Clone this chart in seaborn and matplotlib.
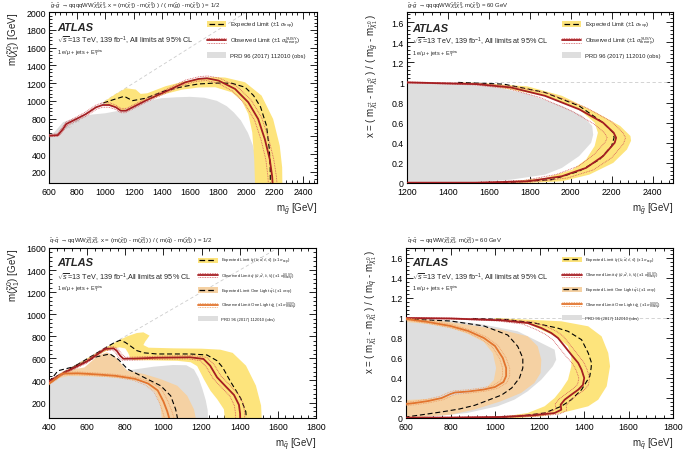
import numpy as np
import matplotlib
matplotlib.use("Agg")
import matplotlib.pyplot as plt
import seaborn as sns
from matplotlib.ticker import MultipleLocator, AutoMinorLocator, FuncFormatter
from matplotlib.lines import Line2D
from matplotlib.patches import Rectangle
from matplotlib.legend_handler import HandlerBase

# ---------------- Panel 1: gluino, x = 1/2 ----------------
p1_grey_x = [600, 600, 640, 700, 800, 900, 1000, 1100, 1200, 1300, 1400, 1500, 1600, 1700, 1790, 1860, 1910, 1960, 2010, 2045, 2070, 2085, 2090]
p1_grey_y = [0, 610, 650, 760, 815, 845, 860, 890, 940, 1000, 1030, 1040, 1045, 1035, 1000, 940, 870, 780, 640, 500, 330, 180, 0]
p1_band_out_x = [985, 1074, 1145, 1215, 1250, 1297, 1426, 1550, 1661, 1760, 1849, 1990, 2107, 2189, 2236, 2253, 2255]
p1_band_out_y = [985, 1078, 1142, 1127, 1078, 1085, 1164, 1215, 1250, 1268, 1262, 1209, 1059, 795, 494, 250, 0]
p1_band_in_x = [985, 1074, 1121, 1192, 1309, 1426, 1544, 1661, 1779, 1896, 1966, 2013, 2041, 2055, 2062]
p1_band_in_y = [975, 927, 889, 938, 1014, 1078, 1126, 1150, 1153, 1096, 1002, 852, 645, 343, 0]
p1_exp_x = [985, 1050, 1133, 1192, 1285, 1426, 1550, 1661, 1780, 1896, 1990, 2050, 2100, 2142, 2162, 2168, 2170]
p1_exp_y = [975, 1010, 1051, 1002, 1029, 1115, 1160, 1190, 1200, 1198, 1153, 1060, 930, 720, 456, 250, 0]
p1_obs_x = [600, 663, 699, 722, 793, 863, 933, 980, 1027, 1074, 1109, 1145, 1192, 1285, 1426, 1567, 1661, 1720, 1802, 1919, 2013, 2083, 2130, 2165, 2182, 2188]
p1_obs_y = [607, 614, 682, 739, 795, 852, 927, 953, 953, 927, 889, 889, 927, 1002, 1104, 1209, 1247, 1254, 1228, 1134, 983, 795, 569, 343, 150, 0]
p1_obs_up_x = [600, 660, 695, 720, 790, 860, 930, 980, 1030, 1075, 1110, 1150, 1195, 1290, 1430, 1570, 1665, 1725, 1810, 1935, 2035, 2108, 2157, 2193, 2212, 2220]
p1_obs_up_y = [620, 630, 700, 760, 815, 875, 950, 978, 978, 950, 915, 915, 952, 1027, 1128, 1235, 1272, 1280, 1255, 1160, 1005, 810, 575, 345, 150, 0]
p1_obs_dn_x = [600, 665, 703, 725, 796, 866, 936, 980, 1024, 1072, 1108, 1140, 1188, 1280, 1420, 1562, 1656, 1715, 1795, 1903, 1991, 2058, 2103, 2137, 2152, 2157]
p1_obs_dn_y = [595, 600, 662, 718, 775, 830, 905, 928, 928, 904, 866, 866, 903, 978, 1080, 1184, 1222, 1228, 1202, 1108, 961, 780, 563, 341, 150, 0]
p1_diag = [680, 2000]

# ---------------- Panel 2: gluino, m(chi0) = 60 GeV ----------------
p2_grey_x = [1200, 1400, 1623, 1790, 1957, 2058, 2105, 2110, 2100, 2041, 1957, 1874, 1707, 1540, 1200]
p2_grey_y = [1.0, 0.99, 0.96, 0.883, 0.767, 0.667, 0.567, 0.48, 0.4, 0.267, 0.15, 0.083, 0.033, 0.01, 0.0]
p2_band_out_x = [1450, 1573, 1790, 1957, 2125, 2242, 2292, 2295, 2275, 2208, 2091, 1957, 1790]
p2_band_out_y = [1.0, 0.993, 0.96, 0.867, 0.7, 0.567, 0.467, 0.42, 0.333, 0.2, 0.083, 0.017, 0.0]
p2_band_in_x = [1450, 1623, 1874, 2041, 2117, 2133, 2117, 2075, 2008, 1874, 1707, 1540]
p2_band_in_y = [1.0, 0.96, 0.867, 0.733, 0.6, 0.5, 0.367, 0.233, 0.133, 0.05, 0.017, 0.0]
p2_exp_x = [1450, 1673, 1874, 2041, 2158, 2208, 2212, 2200, 2141, 2041, 1907, 1707, 1500]
p2_exp_y = [1.0, 0.983, 0.9, 0.767, 0.6, 0.5, 0.45, 0.367, 0.233, 0.117, 0.033, 0.007, 0.0]
p2_obs_x = [1200, 1540, 1707, 1874, 2041, 2158, 2210, 2222, 2215, 2158, 2075, 1957, 1790, 1540, 1200]
p2_obs_y = [1.0, 0.983, 0.95, 0.867, 0.733, 0.6, 0.5, 0.45, 0.4, 0.267, 0.15, 0.067, 0.017, 0.003, 0.003]
p2_obs_up_x = [1200, 1550, 1720, 1900, 2075, 2200, 2255, 2268, 2258, 2200, 2110, 1985, 1810, 1550, 1200]
p2_obs_up_y = [1.005, 0.99, 0.96, 0.885, 0.75, 0.61, 0.5, 0.45, 0.39, 0.25, 0.13, 0.05, 0.01, 0.0, 0.0]
p2_obs_dn_x = [1200, 1530, 1690, 1850, 2005, 2115, 2165, 2178, 2170, 2115, 2040, 1930, 1770, 1530, 1200]
p2_obs_dn_y = [0.995, 0.975, 0.94, 0.85, 0.715, 0.585, 0.5, 0.45, 0.41, 0.285, 0.17, 0.085, 0.025, 0.006, 0.006]

# ---------------- Panel 3: squark, x = 1/2 ----------------
p3_grey_x = [400, 400, 450, 550, 700, 850, 950, 1050, 1120, 1160, 1185, 1205, 1222, 1232, 1235]
p3_grey_y = [0, 385, 440, 445, 460, 500, 525, 540, 538, 500, 420, 320, 220, 130, 0]
p3_band_out_x = [400, 500, 600, 690, 755, 810, 861, 895, 927, 904, 895, 922, 1053, 1200, 1298, 1363, 1433, 1485, 1512, 1517]
p3_band_out_y = [400, 500, 600, 690, 752, 800, 830, 836, 806, 751, 721, 697, 691, 688, 679, 650, 534, 353, 173, 0]
p3_band_in_x = [400, 500, 600, 690, 740, 770, 800, 815, 825, 840, 1000, 1073, 1143, 1177, 1212, 1247, 1282, 1317, 1325]
p3_band_in_y = [390, 480, 570, 660, 690, 700, 690, 650, 610, 585, 580, 578, 565, 530, 412, 306, 230, 139, 0]
p3_exp_x = [400, 500, 600, 700, 740, 773, 800, 825, 861, 900, 966, 1140, 1228, 1281, 1310, 1352, 1405, 1432, 1437]
p3_exp_y = [400, 495, 595, 700, 740, 765, 745, 715, 670, 650, 640, 640, 631, 579, 520, 389, 239, 118, 0]
p3_obs_x = [400, 491, 597, 694, 738, 755, 773, 790, 843, 966, 1140, 1210, 1245, 1281, 1330, 1370, 1396, 1402, 1403]
p3_obs_y = [390, 480, 570, 685, 691, 670, 625, 597, 598, 606, 610, 595, 534, 429, 340, 269, 179, 100, 0]
p3_obs_up_x = [400, 491, 597, 696, 742, 762, 782, 800, 848, 968, 1152, 1226, 1264, 1302, 1352, 1392, 1420, 1426, 1427]
p3_obs_up_y = [400, 492, 584, 700, 706, 684, 638, 610, 612, 620, 625, 610, 548, 440, 350, 278, 185, 100, 0]
p3_obs_dn_x = [400, 491, 597, 692, 734, 748, 764, 780, 838, 964, 1128, 1194, 1226, 1260, 1308, 1348, 1372, 1378, 1379]
p3_obs_dn_y = [380, 468, 556, 670, 676, 656, 612, 584, 584, 592, 596, 580, 520, 418, 330, 260, 173, 100, 0]
p3_oband_out_x = [400, 430, 482, 586, 656, 703, 743, 795, 812, 899, 986, 1073, 1125, 1160, 1169, 1172]
p3_oband_out_y = [380, 430, 488, 518, 624, 655, 624, 518, 488, 458, 412, 352, 261, 139, 64, 0]
p3_oband_in_x = [400, 450, 500, 600, 700, 800, 900, 958, 985, 994]
p3_oband_in_y = [365, 420, 440, 438, 432, 418, 385, 294, 173, 0]
p3_oexp_x = [400, 447, 520, 586, 650, 720, 764, 812, 899, 986, 1038, 1064, 1073, 1075]
p3_oexp_y = [385, 488, 520, 564, 615, 640, 590, 503, 427, 352, 261, 139, 64, 0]
p3_oobs_x = [400, 440, 470, 550, 650, 750, 850, 920, 970, 1000, 1020, 1030, 1031]
p3_oobs_y = [370, 420, 462, 465, 455, 442, 415, 372, 310, 210, 120, 60, 0]
p3_oobs_up_x = [400, 440, 470, 550, 650, 752, 858, 935, 990, 1022, 1044, 1055, 1056]
p3_oobs_up_y = [380, 432, 475, 478, 468, 455, 428, 385, 322, 218, 122, 60, 0]
p3_oobs_dn_x = [400, 440, 470, 550, 650, 748, 842, 905, 950, 978, 996, 1005, 1006]
p3_oobs_dn_y = [360, 408, 450, 452, 442, 429, 402, 359, 298, 202, 118, 60, 0]
p3_diag = [400, 1600]

# ---------------- Panel 4: squark, m(chi0) = 60 GeV ----------------
p4_grey_x = [600, 800, 951, 1102, 1208, 1268, 1275, 1260, 1208, 1147, 1087, 1011, 875, 725, 600]
p4_grey_y = [1.0, 0.977, 0.933, 0.867, 0.75, 0.683, 0.583, 0.517, 0.383, 0.267, 0.183, 0.117, 0.05, 0.017, 0.0]
p4_band_out_x = [1000, 1147, 1298, 1419, 1479, 1509, 1517, 1502, 1464, 1419, 1358, 1298, 1208, 1102, 1000]
p4_band_out_y = [1.0, 0.983, 0.967, 0.917, 0.817, 0.65, 0.517, 0.317, 0.183, 0.117, 0.083, 0.05, 0.017, 0.0, 0.0]
p4_band_in_x = [1000, 1150, 1250, 1283, 1328, 1343, 1343, 1328, 1298, 1268, 1223, 1147, 1026, 1000]
p4_band_in_y = [0.99, 0.94, 0.84, 0.8, 0.717, 0.617, 0.517, 0.383, 0.283, 0.2, 0.117, 0.05, 0.01, 0.0]
p4_exp_x = [900, 1050, 1177, 1280, 1328, 1389, 1419, 1434, 1432, 1426, 1389, 1343, 1298, 1223, 1102, 1000]
p4_exp_y = [0.995, 0.985, 0.95, 0.9, 0.867, 0.783, 0.65, 0.55, 0.5, 0.417, 0.283, 0.183, 0.117, 0.05, 0.017, 0.005]
p4_obs_x = [600, 800, 1026, 1147, 1208, 1253, 1283, 1313, 1343, 1374, 1389, 1401, 1395, 1374, 1343, 1313, 1295, 1298, 1268, 1177, 1026, 800, 600]
p4_obs_y = [1.0, 0.995, 0.977, 0.95, 0.9, 0.85, 0.8, 0.717, 0.633, 0.55, 0.483, 0.4, 0.33, 0.283, 0.233, 0.183, 0.133, 0.083, 0.05, 0.027, 0.01, 0.004, 0.003]
p4_obs_up_x = [600, 800, 1040, 1170, 1232, 1278, 1308, 1338, 1368, 1398, 1413, 1425, 1419, 1398, 1367, 1337, 1320, 1322, 1290, 1190, 1030, 800, 600]
p4_obs_up_y = [1.005, 1.0, 0.985, 0.96, 0.915, 0.865, 0.815, 0.73, 0.645, 0.56, 0.49, 0.4, 0.325, 0.275, 0.225, 0.175, 0.125, 0.075, 0.04, 0.018, 0.004, 0.0, 0.0]
p4_obs_dn_x = [600, 800, 1012, 1124, 1184, 1228, 1258, 1288, 1318, 1350, 1365, 1377, 1371, 1350, 1319, 1289, 1270, 1274, 1246, 1164, 1022, 800, 600]
p4_obs_dn_y = [0.995, 0.99, 0.97, 0.94, 0.885, 0.835, 0.785, 0.705, 0.62, 0.54, 0.476, 0.4, 0.335, 0.291, 0.241, 0.191, 0.141, 0.091, 0.06, 0.036, 0.016, 0.008, 0.007]
p4_oband_out_x = [600, 750, 875, 1026, 1147, 1192, 1208, 1205, 1177, 1117, 1026, 906, 800, 664, 600]
p4_oband_out_y = [1.0, 0.975, 0.933, 0.883, 0.817, 0.717, 0.583, 0.45, 0.35, 0.25, 0.167, 0.083, 0.033, 0.01, 0.0]
p4_oband_in_x = [600, 700, 800, 880, 950, 990, 1005, 995, 960, 900, 820, 780, 700, 600]
p4_oband_in_y = [0.96, 0.94, 0.9, 0.84, 0.76, 0.65, 0.5, 0.38, 0.3, 0.26, 0.23, 0.21, 0.19, 0.18]
p4_oexp_x = [600, 800, 951, 1057, 1102, 1125, 1125, 1110, 1075, 1030, 960, 909, 840, 758, 680, 600]
p4_oexp_y = [0.99, 0.97, 0.92, 0.83, 0.717, 0.6, 0.5, 0.4, 0.3, 0.23, 0.17, 0.127, 0.09, 0.06, 0.035, 0.01]
p4_oobs_x = [600, 700, 800, 880, 950, 1000, 1035, 1050, 1050, 1038, 1000, 950, 880, 820, 800, 760, 700, 640, 600]
p4_oobs_y = [0.99, 0.96, 0.92, 0.87, 0.8, 0.72, 0.6, 0.5, 0.42, 0.36, 0.31, 0.285, 0.265, 0.255, 0.24, 0.2, 0.17, 0.15, 0.14]
p4_oobs_up_x = [600, 700, 805, 890, 962, 1014, 1050, 1066, 1066, 1052, 1010, 955, 882, 824, 806, 768, 706, 644, 600]
p4_oobs_up_y = [1.0, 0.975, 0.935, 0.88, 0.81, 0.725, 0.6, 0.5, 0.42, 0.35, 0.295, 0.268, 0.248, 0.238, 0.222, 0.183, 0.153, 0.133, 0.123]
p4_oobs_dn_x = [600, 700, 795, 870, 938, 986, 1020, 1034, 1034, 1024, 990, 945, 878, 816, 794, 752, 694, 636, 600]
p4_oobs_dn_y = [0.98, 0.945, 0.905, 0.86, 0.79, 0.715, 0.6, 0.5, 0.42, 0.37, 0.325, 0.302, 0.282, 0.272, 0.258, 0.217, 0.187, 0.167, 0.157]

# ---------------- text ----------------
titles = [
    r"$\tilde{g}$-$\tilde{g}$ $\rightarrow$qqqqWW$\tilde{\chi}_1^0\tilde{\chi}_1^0$, x = (m($\tilde{\chi}_1^{\pm}$) - m($\tilde{\chi}_1^0$) ) / ( m($\tilde{g}$) - m($\tilde{\chi}_1^0$) ) = 1/2",
    r"$\tilde{g}$-$\tilde{g}$ $\rightarrow$qqqqWW$\tilde{\chi}_1^0\tilde{\chi}_1^0$, m($\tilde{\chi}_1^0$) = 60 GeV",
    r"$\tilde{q}$-$\tilde{q}$ $\rightarrow$qqWW$\tilde{\chi}_1^0\tilde{\chi}_1^0$, x = (m($\tilde{\chi}_1^{\pm}$) - m($\tilde{\chi}_1^0$) ) / ( m($\tilde{q}$) - m($\tilde{\chi}_1^0$) ) = 1/2",
    r"$\tilde{q}$-$\tilde{q}$ $\rightarrow$qqWW$\tilde{\chi}_1^0\tilde{\chi}_1^0$, m($\tilde{\chi}_1^0$) = 60 GeV",
]
xlabels = [r"m$_{\tilde{g}}$ [GeV]", r"m$_{\tilde{g}}$ [GeV]", r"m$_{\tilde{q}}$ [GeV]", r"m$_{\tilde{q}}$ [GeV]"]
ylabels = [
    r"m($\tilde{\chi}_1^0$) [GeV]",
    r"x = ( m$_{\tilde{\chi}_1^{\pm}}$ - m$_{\tilde{\chi}_1^0}$ ) / ( m$_{\tilde{g}}$ - m$_{\tilde{\chi}_1^0}$ )",
    r"m($\tilde{\chi}_1^0$) [GeV]",
    r"x = ( m$_{\tilde{\chi}_1^{\pm}}$ - m$_{\tilde{\chi}_1^0}$ ) / ( m$_{\tilde{q}}$ - m$_{\tilde{\chi}_1^0}$ )",
]
lumi_texts = [
    r"$\sqrt{s}$=13 TeV, 139 fb$^{-1}$, All limits at 95% CL",
    r"$\sqrt{s}$=13 TeV, 139 fb$^{-1}$, All limits at 95% CL",
    r"$\sqrt{s}$=13 TeV, 139 fb$^{-1}$,All limits at 95% CL",
    r"$\sqrt{s}$=13 TeV, 139 fb$^{-1}$, All limits at 95% CL",
]
chan_text = r"1 e/$\mu$ + jets + E$_{\mathrm{T}}^{\mathrm{miss}}$"
leg_g = [r"Expected Limit ($\pm$1 $\sigma_{\mathrm{exp}}$)",
         r"Observed Limit ($\pm$1 $\sigma_{\mathrm{theory}}^{\mathrm{SUSY}}$)",
         "PRD 96 (2017) 112010 (obs)"]
leg_q = [r"Expected Limit $\tilde{q}$ ($\tilde{u},\tilde{d},\tilde{c},\tilde{s}$) ($\pm$1 $\sigma_{\mathrm{exp}}$)",
         r"Observed Limit $\tilde{q}$ ($\tilde{u},\tilde{d},\tilde{c},\tilde{s}$) ($\pm$1 $\sigma_{\mathrm{theory}}^{\mathrm{SUSY}}$)",
         r"Expected Limit One Light $\tilde{q}_{L}$ ($\pm$1 $\sigma_{\mathrm{exp}}$)",
         r"Observed Limit One Light $\tilde{q}_{L}$ ($\pm$1 $\sigma_{\mathrm{theory}}^{\mathrm{SUSY}}$)",
         "PRD 96 (2017) 112010 (obs)"]
diag_labels = [r"m$_{\tilde{\chi}_1^0}$ < m$_{\tilde{g}}$", r"m$_{\tilde{\chi}_1^0}$ < m$_{\tilde{q}}$"]

# ---------------- style ----------------
sns.set_theme(style="ticks")
plt.rcParams.update({
    "font.family": ["Liberation Sans", "DejaVu Sans"],
    "mathtext.fontset": "custom",
    "mathtext.rm": "Liberation Sans",
    "mathtext.it": "Liberation Sans:italic",
    "mathtext.bf": "Liberation Sans:bold",
    "mathtext.sf": "Liberation Sans",
    "axes.edgecolor": "black",
    "axes.linewidth": 0.8,
    "xtick.color": "black",
    "ytick.color": "black",
})

C_YEL = "#fde47c"
C_GREY = "#dedede"
C_RED = "#a51e22"
C_RED_DOT = "#d4555a"
C_OBAND = "#f5d1a3"
C_ORANGE = "#e2742e"
C_ORANGE_DOT = "#ef9d60"
DASH = (0, (4.5, 2.5))
DOT = (0, (1.0, 1.0))

FW, FH = 685.0, 452.0
fig = plt.figure(figsize=(6.85, 4.52), dpi=100)


def ax_at(l, t, r, b):
    return fig.add_axes([l / FW, 1 - b / FH, (r - l) / FW, (b - t) / FH])


ax1 = ax_at(49, 13, 317, 184)
ax2 = ax_at(407, 13, 673, 184)
ax3 = ax_at(49, 249, 316, 419)
ax4 = ax_at(406, 249, 673, 419)


def line(ax, x, y, color, lw, ls="-", z=4):
    sns.lineplot(x=np.asarray(x, float), y=np.asarray(y, float), ax=ax, sort=False,
                 estimator=None, color=color, linewidth=lw, linestyle=ls,
                 legend=False, zorder=z)


def band(ax, ox, oy, ix, iy, color, z=2):
    xs = np.concatenate([np.asarray(ox, float), np.asarray(ix, float)[::-1]])
    ys = np.concatenate([np.asarray(oy, float), np.asarray(iy, float)[::-1]])
    ax.fill(xs, ys, color=color, lw=0, zorder=z)


def style(ax, xlim, ylim, xmaj, ymaj, xl, yl):
    ax.set_xlim(xlim)
    ax.set_ylim(ylim)
    ax.xaxis.set_major_locator(MultipleLocator(xmaj))
    ax.yaxis.set_major_locator(MultipleLocator(ymaj))
    ax.xaxis.set_minor_locator(AutoMinorLocator(5))
    ax.yaxis.set_minor_locator(AutoMinorLocator(5))
    ax.yaxis.set_major_formatter(FuncFormatter(lambda v, p: f"{v:g}"))
    ax.xaxis.set_major_formatter(FuncFormatter(lambda v, p: f"{v:g}"))
    ax.tick_params(which="both", direction="in", top=True, right=True,
                   labelsize=6.3, width=0.6, colors="black")
    ax.tick_params(axis="x", which="major", pad=3.2)
    ax.tick_params(axis="y", which="major", pad=2.2)
    ax.tick_params(which="major", length=5)
    ax.tick_params(which="minor", length=2.5)
    for s in ax.spines.values():
        s.set_linewidth(0.8)
        s.set_color("black")
    ax.set_xlabel(xl, fontsize=7, loc="right")
    ax.set_ylabel(yl, fontsize=7, loc="top")
    ax.xaxis.set_label_coords(1.0, -0.105)
    ax.yaxis.set_label_coords(-0.10, 1.0)
    ax.set_facecolor("white")


class BoxLine(HandlerBase):
    def __init__(self, face, lcolor):
        super().__init__()
        self.face, self.lcolor = face, lcolor

    def create_artists(self, legend, orig, xd, yd, w, h, fs, trans):
        r = Rectangle((-xd, -yd), w, h, facecolor=self.face, edgecolor="none", transform=trans)
        l = Line2D([-xd + 1, -xd + w - 1], [h / 2 - yd] * 2, color=self.lcolor, lw=0.9,
                   linestyle=DASH, transform=trans)
        return [r, l]


class ObsLine(HandlerBase):
    def __init__(self, color, dcolor):
        super().__init__()
        self.color, self.dcolor = color, dcolor

    def create_artists(self, legend, orig, xd, yd, w, h, fs, trans):
        arts = []
        for dy, ls, lw, c in [(0, "-", 1.3, self.color), (0.38 * h, DOT, 0.6, self.dcolor),
                              (-0.38 * h, DOT, 0.6, self.dcolor)]:
            arts.append(Line2D([-xd, -xd + w], [h / 2 - yd + dy] * 2, color=c, lw=lw,
                               linestyle=ls, transform=trans))
        return arts


class BoxOnly(HandlerBase):
    def __init__(self, face):
        super().__init__()
        self.face = face

    def create_artists(self, legend, orig, xd, yd, w, h, fs, trans):
        return [Rectangle((-xd, -yd), w, h, facecolor=self.face, edgecolor="none", transform=trans)]


def texts(xpx, lumi, atlas_y, lumi_y, chan_y):
    fig.text(xpx / FW, 1 - atlas_y / FH, "ATLAS", fontsize=8.0, fontweight="bold",
             fontstyle="italic", ha="left", va="center")
    fig.text(xpx / FW, 1 - lumi_y / FH, lumi, fontsize=5.2, ha="left", va="center")
    fig.text(xpx / FW, 1 - chan_y / FH, chan_text, fontsize=4.0, ha="left", va="center")


# ---------- panel 1 ----------
ax = ax1
ax.fill(p1_grey_x, p1_grey_y, color=C_GREY, lw=0, zorder=1)
band(ax, p1_band_out_x, p1_band_out_y, p1_band_in_x, p1_band_in_y, C_YEL)
line(ax, p1_diag, p1_diag, "#cccccc", 0.6, (0, (4, 3)), z=1.5)
line(ax, p1_exp_x, p1_exp_y, "black", 0.8, DASH)
line(ax, p1_obs_up_x, p1_obs_up_y, C_RED_DOT, 0.6, DOT)
line(ax, p1_obs_dn_x, p1_obs_dn_y, C_RED_DOT, 0.6, DOT)
line(ax, p1_obs_x, p1_obs_y, C_RED, 1.3)
ax.text(770, 745, diag_labels[0], fontsize=3, color="#b0b0b0", rotation=32, ha="center", va="center")
style(ax, (600, 2500), (75, 2000), 200, 200, xlabels[0], ylabels[0])

# ---------- panel 2 ----------
ax = ax2
ax.fill(p2_grey_x, p2_grey_y, color=C_GREY, lw=0, zorder=1)
band(ax, p2_band_out_x, p2_band_out_y, p2_band_in_x, p2_band_in_y, C_YEL)
ax.axhline(1.0, color="#cccccc", lw=0.6, ls=(0, (4, 3)), zorder=1.5)
line(ax, p2_exp_x, p2_exp_y, "black", 0.8, DASH)
line(ax, p2_obs_up_x, p2_obs_up_y, C_RED_DOT, 0.6, DOT)
line(ax, p2_obs_dn_x, p2_obs_dn_y, C_RED_DOT, 0.6, DOT)
line(ax, p2_obs_x, p2_obs_y, C_RED, 1.3)
style(ax, (1200, 2500), (0, 1.7), 200, 0.2, xlabels[1], ylabels[1])

# ---------- panel 3 ----------
ax = ax3
ax.fill(p3_grey_x, p3_grey_y, color=C_GREY, lw=0, zorder=1)
band(ax, p3_band_out_x, p3_band_out_y, p3_band_in_x, p3_band_in_y, C_YEL, z=2)
band(ax, p3_oband_out_x, p3_oband_out_y, p3_oband_in_x, p3_oband_in_y, C_OBAND, z=2.5)
line(ax, p3_diag, p3_diag, "#cccccc", 0.6, (0, (4, 3)), z=1.5)
line(ax, p3_exp_x, p3_exp_y, "black", 0.8, DASH)
line(ax, p3_oexp_x, p3_oexp_y, "black", 0.8, DASH)
line(ax, p3_obs_up_x, p3_obs_up_y, C_RED_DOT, 0.6, DOT)
line(ax, p3_obs_dn_x, p3_obs_dn_y, C_RED_DOT, 0.6, DOT)
line(ax, p3_obs_x, p3_obs_y, C_RED, 1.3)
line(ax, p3_oobs_up_x, p3_oobs_up_y, C_ORANGE_DOT, 0.6, DOT)
line(ax, p3_oobs_dn_x, p3_oobs_dn_y, C_ORANGE_DOT, 0.6, DOT)
line(ax, p3_oobs_x, p3_oobs_y, C_ORANGE, 1.3)
ax.text(560, 545, diag_labels[1], fontsize=3, color="#b0b0b0", rotation=30, ha="center", va="center")
style(ax, (400, 1800), (60, 1600), 200, 200, xlabels[2], ylabels[2])

# ---------- panel 4 ----------
ax = ax4
ax.fill(p4_grey_x, p4_grey_y, color=C_GREY, lw=0, zorder=1)
band(ax, p4_band_out_x, p4_band_out_y, p4_band_in_x, p4_band_in_y, C_YEL, z=2)
band(ax, p4_oband_out_x, p4_oband_out_y, p4_oband_in_x, p4_oband_in_y, C_OBAND, z=2.5)
ax.axhline(1.0, color="#cccccc", lw=0.6, ls=(0, (4, 3)), zorder=1.5)
line(ax, p4_exp_x, p4_exp_y, "black", 0.8, DASH)
line(ax, p4_oexp_x, p4_oexp_y, "black", 0.8, DASH)
line(ax, p4_obs_up_x, p4_obs_up_y, C_RED_DOT, 0.6, DOT)
line(ax, p4_obs_dn_x, p4_obs_dn_y, C_RED_DOT, 0.6, DOT)
line(ax, p4_obs_x, p4_obs_y, C_RED, 1.3)
line(ax, p4_oobs_up_x, p4_oobs_up_y, C_ORANGE_DOT, 0.6, DOT)
line(ax, p4_oobs_dn_x, p4_oobs_dn_y, C_ORANGE_DOT, 0.6, DOT)
line(ax, p4_oobs_x, p4_oobs_y, C_ORANGE, 1.3)
style(ax, (600, 1800), (0, 1.7), 200, 0.2, xlabels[3], ylabels[3])

# ---------- legends ----------
h_exp, h_obs, h_grey, h_oexp, h_oobs = "exp", "obs", "grey", "oexp", "oobs"
hmap_g = {h_exp: BoxLine(C_YEL, "black"), h_obs: ObsLine(C_RED, C_RED_DOT), h_grey: BoxOnly(C_GREY)}
hmap_q = dict(hmap_g)
hmap_q.update({h_oexp: BoxLine(C_OBAND, "black"), h_oobs: ObsLine(C_ORANGE, C_ORANGE_DOT)})

for ax, anchor in [(ax1, (0.59, 0.955)), (ax2, (0.584, 0.955))]:
    lg = ax.legend([h_exp, h_obs, h_grey], leg_g, handler_map=hmap_g, loc="upper left",
                   bbox_to_anchor=anchor, frameon=False, fontsize=4.2, borderpad=0,
                   handlelength=3.2, handleheight=1.3, labelspacing=0.85, handletextpad=0.7,
                   borderaxespad=0)
    lg.set_zorder(10)

for ax, anchor in [(ax3, (0.558, 0.955)), (ax4, (0.584, 0.96))]:
    lg = ax.legend([h_exp, h_obs, h_oexp, h_oobs, h_grey], leg_q, handler_map=hmap_q, loc="upper left",
                   bbox_to_anchor=anchor, frameon=False, fontsize=3.1, borderpad=0,
                   handlelength=4.6, handleheight=1.5, labelspacing=1.05, handletextpad=0.7,
                   borderaxespad=0)
    lg.set_zorder(10)

# ---------- text annotations ----------
texts(57, lumi_texts[0], 28, 41, 53)
texts(412, lumi_texts[1], 29, 42, 54)
texts(57, lumi_texts[2], 263, 278, 289)
texts(412, lumi_texts[3], 263, 278, 289)
for (xp, yp), t in zip([(50, 6), (407, 6), (49, 241), (407, 241)], titles):
    fig.text(xp / FW, 1 - yp / FH, t, fontsize=4.3, ha="left", va="center")

fig.savefig("out.png", dpi=100)
